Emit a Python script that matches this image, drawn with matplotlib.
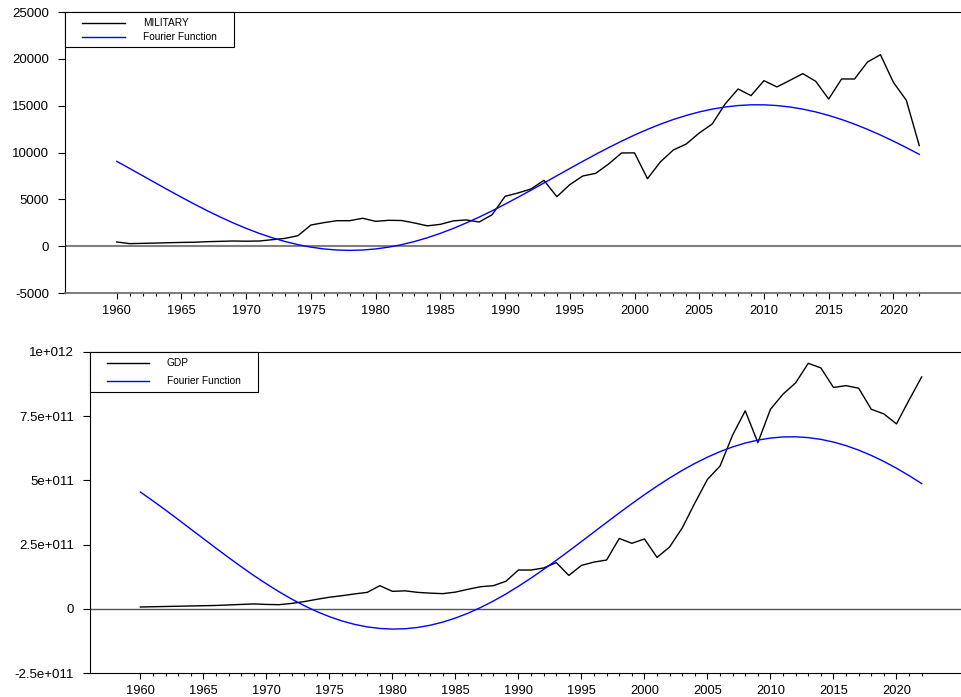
import matplotlib
matplotlib.use('Agg')
import matplotlib.pyplot as plt
from matplotlib.patches import Rectangle
from matplotlib.ticker import FixedLocator

plt.rcParams['font.family'] = ['Liberation Sans', 'DejaVu Sans']

years = list(range(1960, 2023))

military = [450, 270, 300, 330, 370, 400, 420, 480, 515, 550,
            530, 550, 690, 830, 1120, 2260, 2510, 2720, 2720, 2980,
            2650, 2760, 2740, 2475, 2170, 2330, 2700, 2800, 2580, 3360,
            5320, 5680, 6105, 7025, 5285, 6565, 7490, 7775, 8775, 9950,
            9960, 7205, 9000, 10270, 10910, 12080, 13040, 15180, 16780, 16070,
            17670, 17000, 17700, 18420, 17600, 15710, 17850, 17850, 19660, 20440,
            17490, 15570, 10730]

military_fourier = [9055, 8292, 7519, 6744, 5975, 5220, 4484, 3778, 3106, 2477,
                    1897, 1369, 901, 497, 160, -105, -296, -411, -450, -411,
                    -296, -105, 160, 497, 901, 1369, 1897, 2477, 3106, 3778,
                    4484, 5220, 5975, 6744, 7519, 8292, 9055, 9801, 10523, 11213,
                    11864, 12470, 13025, 13523, 13959, 14330, 14631, 14860, 15013, 15090,
                    15090, 15013, 14860, 14631, 14330, 13959, 13523, 13025, 12470, 11864,
                    11213, 10523, 9801]

# GDP in units of 1e11
gdp_e11 = [0.07, 0.08, 0.09, 0.10, 0.11, 0.12, 0.13, 0.15, 0.17, 0.19,
           0.17, 0.16, 0.21, 0.28, 0.37, 0.45, 0.51, 0.58, 0.64, 0.90,
           0.68, 0.70, 0.64, 0.61, 0.59, 0.65, 0.76, 0.86, 0.90, 1.07,
           1.51, 1.51, 1.59, 1.80, 1.30, 1.69, 1.82, 1.90, 2.74, 2.55,
           2.72, 2.00, 2.41, 3.15, 4.12, 5.04, 5.56, 6.77, 7.71, 6.47,
           7.77, 8.36, 8.80, 9.56, 9.38, 8.62, 8.69, 8.59, 7.77, 7.59,
           7.20, 8.13, 9.03]

gdp_fourier_e11 = [4.546, 4.201, 3.843, 3.476, 3.104, 2.731, 2.360, 1.995, 1.639, 1.296,
                   0.971, 0.664, 0.380, 0.122, -0.107, -0.307, -0.474, -0.607, -0.704, -0.765,
                   -0.790, -0.777, -0.726, -0.640, -0.517, -0.360, -0.171, 0.050, 0.300, 0.575,
                   0.877, 1.197, 1.535, 1.887, 2.249, 2.619, 2.992, 3.365, 3.734, 4.094,
                   4.444, 4.778, 5.095, 5.391, 5.662, 5.906, 6.121, 6.305, 6.455, 6.570,
                   6.649, 6.692, 6.698, 6.666, 6.598, 6.493, 6.353, 6.179, 5.973, 5.738,
                   5.474, 5.186, 4.876]

gdp = [v * 1e11 for v in gdp_e11]
gdp_fourier = [v * 1e11 for v in gdp_fourier_e11]

mil_yticks = [-5000, 0, 5000, 10000, 15000, 20000, 25000]
mil_ylabels = ['-5000', '0', '5000', '10000', '15000', '20000', '25000']
gdp_yticks = [-2.5e11, 0, 2.5e11, 5e11, 7.5e11, 1e12]
gdp_ylabels = ['-2.5e+011', '0', '2.5e+011', '5e+011', '7.5e+011', '1e+012']


def style_axis(ax, yticks, ylabels):
    ax.spines['right'].set_visible(False)
    ax.xaxis.set_major_locator(FixedLocator(range(1960, 2021, 5)))
    ax.xaxis.set_minor_locator(FixedLocator(years))
    ax.set_yticks(yticks)
    ax.set_yticklabels(ylabels)
    ax.tick_params(axis='x', which='major', direction='out', length=4, width=0.8, pad=4.5, labelsize=9.3)
    ax.tick_params(axis='x', which='minor', direction='out', length=2, width=0.8)
    ax.tick_params(axis='y', direction='out', length=5, width=0.8, pad=6.5, labelsize=9.5)
    for s in ['left', 'top', 'bottom']:
        ax.spines[s].set_linewidth(0.8)


def draw_legend(ax, labels, colors, box_w, box_h, x0, x1, tx, rows):
    # sizes in pixels measured from the axes upper left corner
    W, H = ax.bbox.width, ax.bbox.height
    ax.add_patch(Rectangle((0, 1 - box_h / H), box_w / W, box_h / H, transform=ax.transAxes,
                           facecolor='white', edgecolor='black', lw=0.8, zorder=5, clip_on=False))
    for label, color, ry in zip(labels, colors, rows):
        y = 1 - ry / H
        ax.plot([x0 / W, x1 / W], [y, y], transform=ax.transAxes, color=color, lw=1.0,
                zorder=6, clip_on=False)
        ax.text(tx / W, y, label, transform=ax.transAxes, va='center', ha='left',
                fontsize=7.3, zorder=6)


fig = plt.figure(figsize=(9.62, 6.97), dpi=100)
ax1 = fig.add_axes([65 / 962, (697 - 293) / 697, 897 / 962, 281 / 697])
ax2 = fig.add_axes([90 / 962, (697 - 673) / 697, 872 / 962, 321 / 697])

# top: military
ax1.axhline(0, color='#808080', lw=1.5, zorder=1)
ax1.plot(years, military, color='black', lw=1.0, zorder=3)
ax1.plot(years, military_fourier, color='#0000ff', lw=1.0, zorder=3)
style_axis(ax1, mil_yticks, mil_ylabels)
ax1.spines['bottom'].set_color('#666666')
ax1.spines['bottom'].set_linewidth(1.2)
ax1.set_xlim(1956.0, 2025.3)
ax1.set_ylim(-5000, 25000)
draw_legend(ax1, ['MILITARY', 'Fourier Function'], ['black', '#0000ff'],
            169, 35, 17, 60, 78, [11, 25])

# bottom: gdp
ax2.axhline(0, color='#555555', lw=1.0, zorder=1)
ax2.plot(years, gdp, color='black', lw=1.0, zorder=3)
ax2.plot(years, gdp_fourier, color='#0000ff', lw=1.0, zorder=3)
style_axis(ax2, gdp_yticks, gdp_ylabels)
ax2.set_xlim(1956.0, 2025.2)
ax2.set_ylim(-2.5e11, 1e12)
draw_legend(ax2, ['GDP', 'Fourier Function'], ['black', '#0000ff'],
            168, 40, 16.7, 59.3, 76.7, [11.3, 28.7])

plt.savefig('out.png', dpi=100)
print('saved graph')
